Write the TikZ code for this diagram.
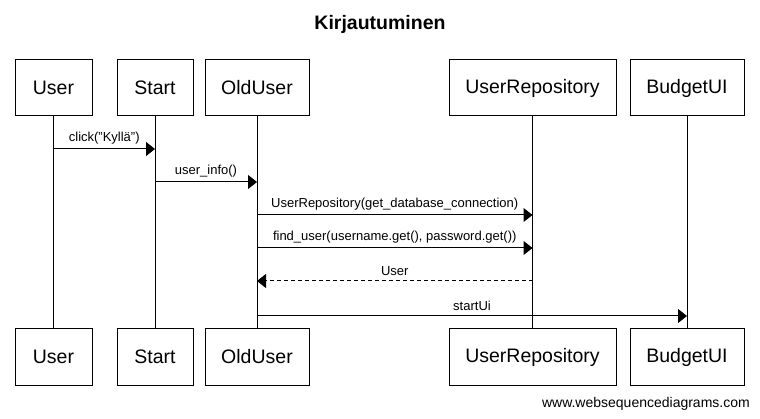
\documentclass[tikz,border=0pt]{standalone}
\usepackage{fontspec}
\setmainfont{Liberation Sans}
\usetikzlibrary{arrows.meta}
\begin{document}
\begin{tikzpicture}[x=1pt,y=-1pt,
  actor/.style={draw=black, line width=1pt, minimum height=56pt, inner sep=0pt, font=\fontsize{19.5}{22}\selectfont},
  life/.style={line width=1pt},
  msg/.style={line width=1pt, -{Triangle[length=9pt,width=14pt]}},
  ret/.style={msg, dash pattern=on 4pt off 3pt},
  lbl/.style={font=\fontsize{13}{15}\selectfont, inner sep=0pt, anchor=base},
  ttl/.style={font=\bfseries\fontsize{19.5}{22}\selectfont, inner sep=0pt}
]
\useasboundingbox (0,0) rectangle (760,419);
\fill[white] (0,0) rectangle (760,419);

\node[ttl] (title) at (380,24) {Kirjautuminen};

% top actors
\node[actor, minimum width=77pt]  (uT) at (53.5,88) {User};
\node[actor, minimum width=76pt]  (sT) at (155,88) {Start};
\node[actor, minimum width=104pt] (oT) at (257,88) {OldUser};
\node[actor, minimum width=167pt] (rT) at (532.5,88) {UserRepository};
\node[actor, minimum width=114pt] (bT) at (687,88) {BudgetUI};

% bottom actors
\node[actor, minimum width=77pt]  (uB) at (53.5,357) {User};
\node[actor, minimum width=76pt]  (sB) at (155,357) {Start};
\node[actor, minimum width=104pt] (oB) at (257,357) {OldUser};
\node[actor, minimum width=167pt] (rB) at (532.5,357) {UserRepository};
\node[actor, minimum width=114pt] (bB) at (687,357) {BudgetUI};

% lifelines
\draw[life] (uT) -- (uB);
\draw[life] (sT) -- (sB);
\draw[life] (oT) -- (oB);
\draw[life] (rT) -- (rB);
\draw[life] (bT) -- (bB);

% message end points
\coordinate (m1a) at (uT.south |- 0,149);
\coordinate (m1b) at (sT.south |- 0,149);
\coordinate (m2a) at (sT.south |- 0,182);
\coordinate (m2b) at (oT.south |- 0,182);
\coordinate (m3a) at (oT.south |- 0,215);
\coordinate (m3b) at (rT.south |- 0,215);
\coordinate (m4a) at (oT.south |- 0,248);
\coordinate (m4b) at (rT.south |- 0,248);
\coordinate (m5a) at (rT.south |- 0,281);
\coordinate (m5b) at (oT.south |- 0,281);
\coordinate (m6a) at (oT.south |- 0,316);
\coordinate (m6b) at (bT.south |- 0,316);

\draw[msg] (m1a) -- node[lbl, above=4.5pt] (l1) {click("Kyllä")} (m1b);
\draw[msg] (m2a) -- node[lbl, above=4.5pt] (l2) {user\_info()} (m2b);
\draw[msg] (m3a) -- node[lbl, above=4.5pt] (l3) {UserRepository(get\_database\_connection)} (m3b);
\draw[msg] (m4a) -- node[lbl, above=4.5pt] (l4) {find\_user(username.get(), password.get())} (m4b);
\draw[ret] (m5a) -- node[lbl, above=4.5pt] (l5) {User} (m5b);
\draw[msg] (m6a) -- node[lbl, above=4.5pt] (l6) {startUi} (m6b);

\node[font=\fontsize{14}{16}\selectfont, inner sep=0pt, anchor=east] (foot) at (750,404) {www.websequencediagrams.com};
\end{tikzpicture}
\end{document}
